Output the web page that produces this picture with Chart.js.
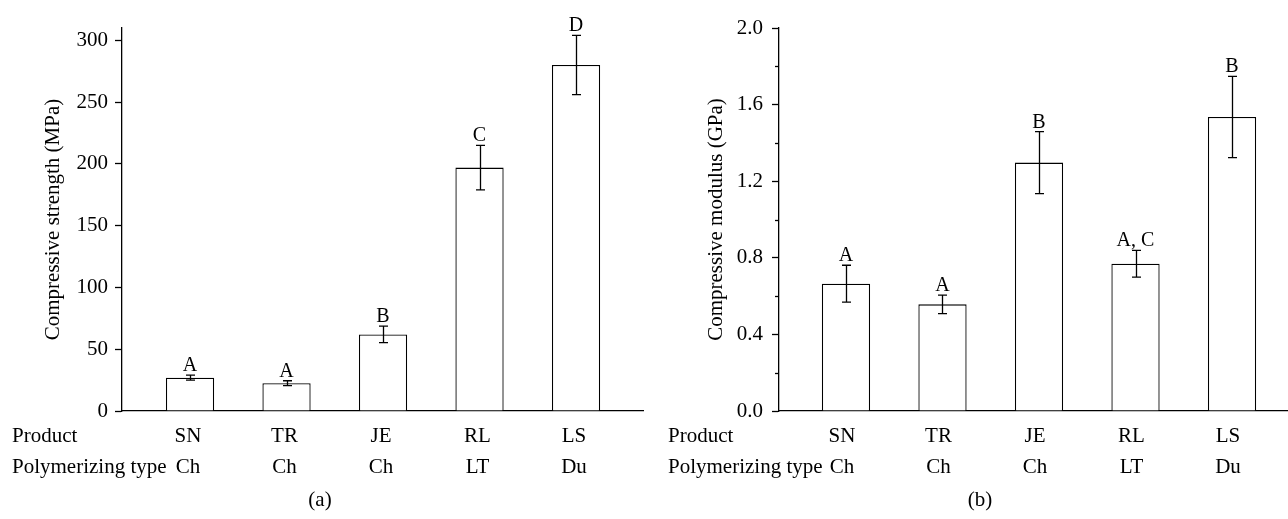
<!DOCTYPE html>
<html>
<head>
<meta charset="utf-8">
<script src="https://cdn.jsdelivr.net/npm/chart.js@4"></script>
<style>
  body { margin: 0; background: #fff; }
  #wrap { position: relative; width: 1288px; height: 519px; }
  canvas { position: absolute; top: 0; }
</style>
</head>
<body>
<div id="wrap">
  <canvas id="chartA" width="644" height="519" style="left:0"></canvas>
  <canvas id="chartB" width="644" height="519" style="left:644px"></canvas>
</div>
<script>
// data
const products = ['SN', 'TR', 'JE', 'RL', 'LS'];
const polyTypes = ['Ch', 'Ch', 'Ch', 'LT', 'Du'];

const strength = [27, 22.5, 62, 197, 280];
const strengthErr = [2, 2, 6.7, 18, 24];
const strengthGroups = ['A', 'A', 'B', 'C', 'D'];
const strengthTicks = [0, 50, 100, 150, 200, 250, 300];

const modulus = [0.665, 0.557, 1.297, 0.769, 1.535];
const modulusErr = [0.096, 0.048, 0.162, 0.07, 0.212];
const modulusGroups = ['A', 'A', 'B', 'A, C', 'B'];
const modulusTicks = [0, 0.4, 0.8, 1.2, 1.6, 2.0];
const modulusMinor = [0.2, 0.6, 1.0, 1.4, 1.8];

Chart.defaults.font.family = "'Liberation Serif', serif";
Chart.defaults.color = '#000';

const FONT = "21px 'Liberation Serif', serif";
const SMALL = "20px 'Liberation Serif', serif";

// error bars, group letters, row labels, axis title, caption
const extras = {
  id: 'extras',
  afterDraw(chart, args, o) {
    const ctx = chart.ctx;
    const y = chart.scales.y, x = chart.scales.x;
    const meta = chart.getDatasetMeta(0);
    const vals = chart.data.datasets[0].data;
    ctx.save();
    ctx.strokeStyle = '#000';
    ctx.fillStyle = '#000';
    ctx.lineWidth = 1.3;

    // minor ticks
    (o.minor || []).forEach(v => {
      const py = Math.round(y.getPixelForValue(v)) + 0.5;
      ctx.beginPath();
      ctx.moveTo(chart.chartArea.left - 4, py);
      ctx.lineTo(chart.chartArea.left, py);
      ctx.stroke();
    });

    meta.data.forEach((bar, i) => {
      const v = vals[i].y, e = o.errors[i];
      const top = y.getPixelForValue(v + e), bot = y.getPixelForValue(v - e);
      const bx = Math.round(bar.x) + 0.5;
      ctx.beginPath();
      ctx.moveTo(bx, top); ctx.lineTo(bx, bot);
      ctx.moveTo(bx - 4.5, top); ctx.lineTo(bx + 4.5, top);
      ctx.moveTo(bx - 4.5, bot); ctx.lineTo(bx + 4.5, bot);
      ctx.stroke();
      ctx.font = SMALL;
      ctx.textAlign = 'center';
      ctx.textBaseline = 'alphabetic';
      ctx.fillText(o.groups[i], bar.x, top - 4);
    });

    // bottom rows
    ctx.font = FONT;
    ctx.textBaseline = 'alphabetic';
    ctx.textAlign = 'left';
    ctx.fillText('Product', o.rowX, 442);
    ctx.fillText('Polymerizing type', o.rowX, 473);
    ctx.textAlign = 'center';
    products.forEach((p, i) => {
      const px = x.getPixelForValue(i + 1) + o.labelShift;
      ctx.fillText(p, px, 442);
      ctx.fillText(polyTypes[i], px, 473);
    });
    ctx.fillText(o.caption, o.captionX, 506);

    // y title
    ctx.translate(o.titleX, (chart.chartArea.top + chart.chartArea.bottom) / 2);
    ctx.rotate(-Math.PI / 2);
    ctx.fillText(o.title, 0, 0);
    ctx.restore();
  }
};

function makeChart(id, values, o) {
  return new Chart(document.getElementById(id), {
    type: 'bar',
    data: {
      datasets: [{
        data: values.map((v, i) => ({ x: i + 1, y: v })),
        backgroundColor: '#fff',
        borderColor: '#000',
        borderWidth: 1.3,
        barPercentage: 0.5,
        categoryPercentage: 1
      }]
    },
    options: {
      responsive: false,
      animation: false,
      layout: { padding: { top: 28, right: o.padRight, left: 0, bottom: 0 } },
      plugins: { legend: { display: false }, tooltip: { enabled: false }, extras: o },
      scales: {
        x: {
          type: 'linear',
          min: o.xMin, max: o.xMax,
          ticks: { display: false },
          grid: { display: false },
          border: { color: '#000', width: 1.3 },
          afterBuildTicks: s => { s.ticks = []; },
          afterFit: s => { s.height = 108; }
        },
        y: {
          min: 0, max: o.yMax,
          afterBuildTicks: s => { s.ticks = o.ticks.map(v => ({ value: v })); },
          ticks: {
            font: { size: 21 },
            padding: o.tickPad,
            callback: v => o.fmt(v)
          },
          grid: { drawOnChartArea: false, tickLength: 7, tickColor: '#000', tickWidth: 1.3 },
          border: { color: '#000', width: 1.3 },
          afterFit: s => { s.width = o.axisX; }
        }
      }
    },
    plugins: [extras]
  });
}

makeChart('chartA', strength, {
  errors: strengthErr, groups: strengthGroups, ticks: strengthTicks,
  yMax: 310, xMin: 0.295, xMax: 5.694, axisX: 122, padRight: 1, tickPad: 7,
  fmt: v => String(v), rowX: 12, labelShift: -2,
  caption: '(a)', captionX: 320, title: 'Compressive strength (MPa)', titleX: 59
});

makeChart('chartB', modulus, {
  errors: modulusErr, groups: modulusGroups, ticks: modulusTicks, minor: modulusMinor,
  yMax: 2.0, xMin: 0.306, xMax: 5.58, axisX: 135, padRight: 0, tickPad: 9,
  fmt: v => v.toFixed(1), rowX: 24, labelShift: -4,
  caption: '(b)', captionX: 336, title: 'Compressive modulus (GPa)', titleX: 78
});
</script>
</body>
</html>
